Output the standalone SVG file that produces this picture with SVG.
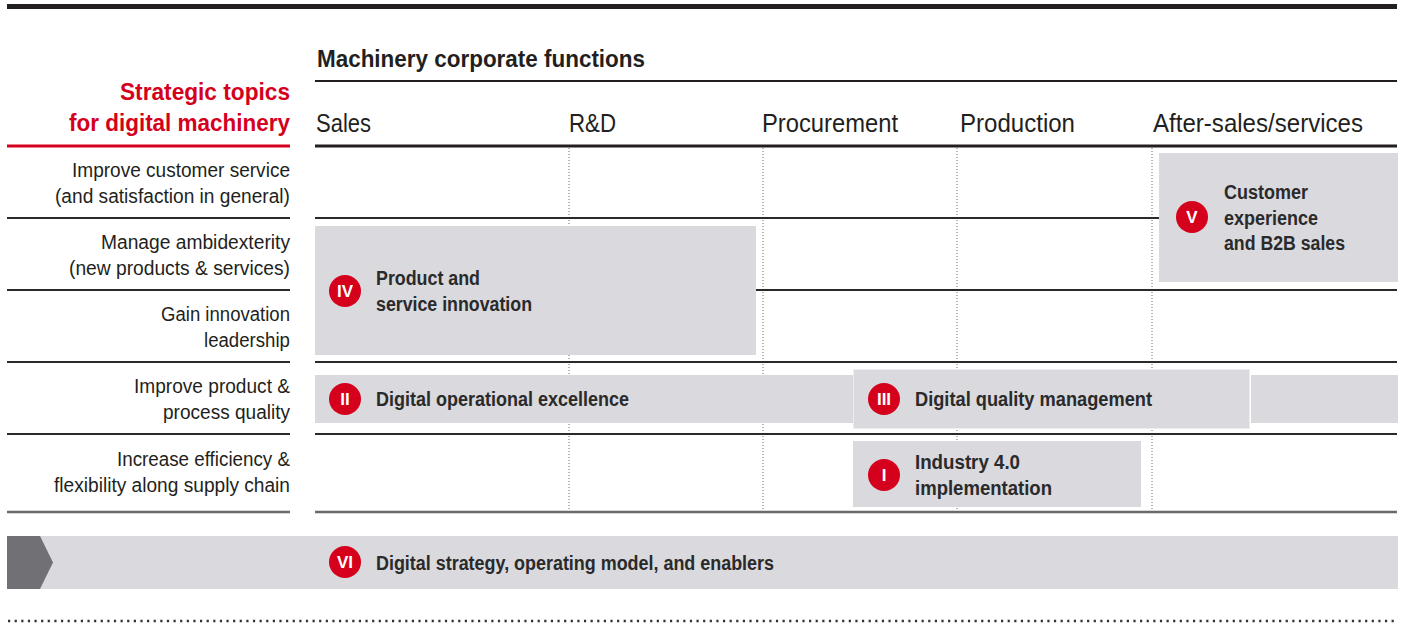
<svg xmlns="http://www.w3.org/2000/svg" width="1405" height="626" viewBox="0 0 1405 626">
<style>
  .hdr{font-family:"Liberation Sans Narrow","Liberation Sans",sans-serif;font-weight:bold;font-size:24px;fill:#231f20}
  .red{font-family:"Liberation Sans Narrow","Liberation Sans",sans-serif;font-weight:bold;font-size:24px;fill:#d5001c}
  .col{font-family:"Liberation Sans Narrow","Liberation Sans",sans-serif;font-size:26px;fill:#231f20}
  .row{font-family:"Liberation Sans Narrow","Liberation Sans",sans-serif;font-size:20px;fill:#231f20}
  .bt{font-family:"Liberation Sans Narrow","Liberation Sans",sans-serif;font-weight:bold;font-size:20px;fill:#2a2a2a}
  .num{font-family:"Liberation Sans Narrow","Liberation Sans",sans-serif;font-weight:bold;font-size:17px;fill:#ffffff}
  .box{fill:#d9d9de}
  .dot{fill:#d5001c}
  .rl{stroke:#2a2a2a;stroke-width:2;fill:none}
  .vl{stroke:#6a6a6a;stroke-width:1;stroke-dasharray:1 2;fill:none}
</style>

<!-- top bar -->
<rect x="7" y="4" width="1390" height="5" fill="#231f20"/>

<!-- headers -->
<g id="title">
  <text class="hdr" x="317" y="67" textLength="328" lengthAdjust="spacingAndGlyphs">Machinery corporate functions</text>
</g>
<g id="strategic-title">
  <text class="red" x="290" y="100" text-anchor="end" textLength="170" lengthAdjust="spacingAndGlyphs">Strategic topics</text>
  <text class="red" x="290" y="131" text-anchor="end" textLength="221" lengthAdjust="spacingAndGlyphs">for digital machinery</text>
</g>
<g id="columns">
  <text class="col" x="316" y="132" textLength="55" lengthAdjust="spacingAndGlyphs">Sales</text>
  <text class="col" x="569" y="132" textLength="47" lengthAdjust="spacingAndGlyphs">R&amp;D</text>
  <text class="col" x="762" y="132" textLength="136" lengthAdjust="spacingAndGlyphs">Procurement</text>
  <text class="col" x="960" y="132" textLength="115" lengthAdjust="spacingAndGlyphs">Production</text>
  <text class="col" x="1153" y="132" textLength="210" lengthAdjust="spacingAndGlyphs">After-sales/services</text>
</g>

<!-- grid lines -->
<g id="connectors">
  <line x1="315" y1="81" x2="1397" y2="81" stroke="#231f20" stroke-width="2"/>
  <line x1="7" y1="146" x2="290" y2="146" stroke="#d5001c" stroke-width="3"/>
  <line x1="315" y1="146" x2="1397" y2="146" stroke="#231f20" stroke-width="3"/>
  <line class="vl" x1="569" y1="148" x2="569" y2="512"/>
  <line class="vl" x1="763" y1="148" x2="763" y2="512"/>
  <line class="vl" x1="957" y1="148" x2="957" y2="512"/>
  <line class="vl" x1="1152" y1="148" x2="1152" y2="512"/>
  <line class="rl" x1="7" y1="218" x2="290" y2="218"/>
  <line class="rl" x1="315" y1="218" x2="1397" y2="218"/>
  <line class="rl" x1="7" y1="290" x2="290" y2="290"/>
  <line class="rl" x1="315" y1="290" x2="1397" y2="290"/>
  <line class="rl" x1="7" y1="362" x2="290" y2="362"/>
  <line class="rl" x1="315" y1="362" x2="1397" y2="362"/>
  <line class="rl" x1="7" y1="434" x2="290" y2="434"/>
  <line class="rl" x1="315" y1="434" x2="1397" y2="434"/>
  <line x1="7" y1="512" x2="290" y2="512" stroke="#6a6a6a" stroke-width="2.5"/>
  <line x1="315" y1="512" x2="1397" y2="512" stroke="#6a6a6a" stroke-width="2.5"/>
  <line x1="8" y1="621" x2="1398" y2="621" stroke="#333333" stroke-width="2.4" stroke-dasharray="2.2 4.42"/>
</g>

<!-- row labels -->
<g id="rows">
  <text class="row" x="290" y="177" text-anchor="end" textLength="218" lengthAdjust="spacingAndGlyphs">Improve customer service</text>
  <text class="row" x="290" y="203" text-anchor="end" textLength="235" lengthAdjust="spacingAndGlyphs">(and satisfaction in general)</text>
  <text class="row" x="290" y="249" text-anchor="end" textLength="189" lengthAdjust="spacingAndGlyphs">Manage ambidexterity</text>
  <text class="row" x="290" y="275" text-anchor="end" textLength="221" lengthAdjust="spacingAndGlyphs">(new products &amp; services)</text>
  <text class="row" x="290" y="321" text-anchor="end" textLength="129" lengthAdjust="spacingAndGlyphs">Gain innovation</text>
  <text class="row" x="290" y="347" text-anchor="end" textLength="86" lengthAdjust="spacingAndGlyphs">leadership</text>
  <text class="row" x="290" y="393" text-anchor="end" textLength="156" lengthAdjust="spacingAndGlyphs">Improve product &amp;</text>
  <text class="row" x="290" y="419" text-anchor="end" textLength="127" lengthAdjust="spacingAndGlyphs">process quality</text>
  <text class="row" x="290" y="466" text-anchor="end" textLength="173" lengthAdjust="spacingAndGlyphs">Increase efficiency &amp;</text>
  <text class="row" x="290" y="492" text-anchor="end" textLength="236" lengthAdjust="spacingAndGlyphs">flexibility along supply chain</text>
</g>

<!-- V -->
<g id="node-V">
  <rect class="box" x="1159" y="153" width="239" height="129"/>
  <circle class="dot" cx="1192" cy="217" r="16"/>
  <text class="num" x="1192" y="223" text-anchor="middle">V</text>
  <text class="bt" x="1224" y="199" textLength="84" lengthAdjust="spacingAndGlyphs">Customer</text>
  <text class="bt" x="1224" y="225" textLength="94" lengthAdjust="spacingAndGlyphs">experience</text>
  <text class="bt" x="1224" y="250" textLength="121" lengthAdjust="spacingAndGlyphs">and B2B sales</text>
</g>

<!-- IV -->
<g id="node-IV">
  <rect class="box" x="315" y="226" width="441" height="129"/>
  <circle class="dot" cx="345" cy="291" r="16"/>
  <text class="num" x="345" y="297" text-anchor="middle">IV</text>
  <text class="bt" x="376" y="285" textLength="104" lengthAdjust="spacingAndGlyphs">Product and</text>
  <text class="bt" x="376" y="311" textLength="156" lengthAdjust="spacingAndGlyphs">service innovation</text>
</g>

<!-- II -->
<g id="node-II">
  <rect class="box" x="315" y="375" width="545" height="48"/>
  <rect class="box" x="1251" y="375" width="147" height="48"/>
  <circle class="dot" cx="345" cy="399" r="16"/>
  <text class="num" x="345" y="405" text-anchor="middle">II</text>
  <text class="bt" x="376" y="406" textLength="253" lengthAdjust="spacingAndGlyphs">Digital operational excellence</text>
</g>

<!-- III -->
<g id="node-III">
  <rect class="box" x="853.5" y="369.5" width="396" height="59" stroke="#ececf0" stroke-width="1"/>
  <circle class="dot" cx="884" cy="399" r="16"/>
  <text class="num" x="884" y="405" text-anchor="middle">III</text>
  <text class="bt" x="915" y="406" textLength="237" lengthAdjust="spacingAndGlyphs">Digital quality management</text>
</g>

<!-- I -->
<g id="node-I">
  <rect class="box" x="853" y="441" width="288" height="66"/>
  <circle class="dot" cx="884" cy="475" r="16"/>
  <text class="num" x="884" y="481" text-anchor="middle">I</text>
  <text class="bt" x="915" y="469" textLength="105" lengthAdjust="spacingAndGlyphs">Industry 4.0</text>
  <text class="bt" x="915" y="495" textLength="137" lengthAdjust="spacingAndGlyphs">implementation</text>
</g>

<!-- VI -->
<g id="node-VI">
  <rect class="box" x="7" y="536" width="1391" height="53"/>
  <polygon points="7,536 40,536 53,562.5 40,589 7,589" fill="#717075"/>
  <circle class="dot" cx="345" cy="562" r="16"/>
  <text class="num" x="345" y="568" text-anchor="middle">VI</text>
  <text class="bt" x="376" y="570" textLength="398" lengthAdjust="spacingAndGlyphs">Digital strategy, operating model, and enablers</text>
</g>
</svg>
